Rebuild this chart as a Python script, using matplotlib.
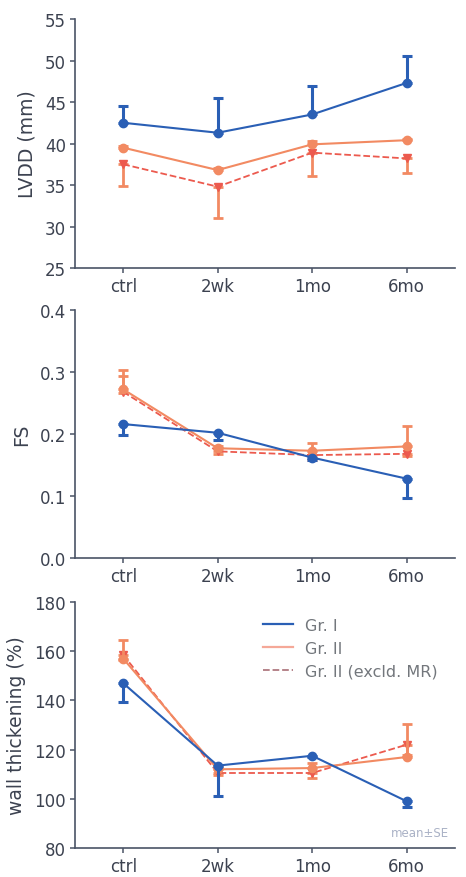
import numpy as np
import matplotlib.pyplot as plt
from matplotlib.lines import Line2D

plt.rcParams['font.family'] = ['DejaVu Sans']

# categories
times = ['ctrl', '2wk', '1mo', '6mo']
x = np.arange(len(times))

# LVDD (mm): means, lower err, upper err
lvdd_g1 = [42.5, 41.3, 43.5, 47.3]
lvdd_g1_lo = [0, 0, 0, 0]
lvdd_g1_hi = [2.0, 4.2, 3.4, 3.3]
lvdd_g2 = [39.5, 36.8, 39.9, 40.4]
lvdd_g2_lo = [0, 0, 0, 0]
lvdd_g2_hi = [0.2, 0.2, 0.4, 0.1]
lvdd_ex = [37.5, 34.8, 38.9, 38.2]
lvdd_ex_lo = [2.6, 3.8, 2.8, 1.7]
lvdd_ex_hi = [0, 0, 0, 0]

# FS
fs_g1 = [0.216, 0.202, 0.162, 0.128]
fs_g1_lo = [0.018, 0.012, 0.004, 0.031]
fs_g1_hi = [0, 0, 0, 0]
fs_g2 = [0.272, 0.177, 0.173, 0.180]
fs_g2_lo = [0, 0, 0, 0]
fs_g2_hi = [0.031, 0.004, 0.013, 0.033]
fs_ex = [0.268, 0.172, 0.166, 0.168]
fs_ex_lo = [0.002, 0.004, 0.008, 0.003]
fs_ex_hi = [0.025, 0, 0, 0]

# wall thickening (%)
wt_g1 = [147, 113.5, 117.5, 99]
wt_g1_lo = [7.5, 12.5, 0.5, 2.5]
wt_g1_hi = [0, 0, 0, 0]
wt_g2 = [157, 112, 112.5, 117]
wt_g2_lo = [0, 0, 0, 0]
wt_g2_hi = [7.5, 1.0, 2.0, 13.5]
wt_ex = [158.5, 110.5, 110.5, 122]
wt_ex_lo = [2.0, 1.0, 2.0, 4.0]
wt_ex_hi = [0, 0, 0, 0]

c_g1 = '#2a5fb5'
c_g2 = '#f28a62'
c_ex = '#ec5a4e'
c_axis = '#4a5466'
c_text = '#3c4250'

panels = [
    ('LVDD (mm)', (25, 55), [25, 30, 35, 40, 45, 50, 55], None,
     (lvdd_g1, lvdd_g1_lo, lvdd_g1_hi), (lvdd_g2, lvdd_g2_lo, lvdd_g2_hi),
     (lvdd_ex, lvdd_ex_lo, lvdd_ex_hi)),
    ('FS', (0, 0.4), [0.0, 0.1, 0.2, 0.3, 0.4], '%.1f',
     (fs_g1, fs_g1_lo, fs_g1_hi), (fs_g2, fs_g2_lo, fs_g2_hi),
     (fs_ex, fs_ex_lo, fs_ex_hi)),
    ('wall thickening (%)', (80, 180), [80, 100, 120, 140, 160, 180], None,
     (wt_g1, wt_g1_lo, wt_g1_hi), (wt_g2, wt_g2_lo, wt_g2_hi),
     (wt_ex, wt_ex_lo, wt_ex_hi)),
]

fig = plt.figure(figsize=(4.66, 8.78), dpi=100)
rects = [
    [0.161, 0.6936, 0.815, 0.2836],
    [0.161, 0.3633, 0.815, 0.2825],
    [0.161, 0.0330, 0.815, 0.2802],
]

for i, (ylab, ylim, yt, fmt, g1, g2, ex) in enumerate(panels):
    ax = fig.add_axes(rects[i])
    # Gr. II excl. MR (dashed)
    ax.errorbar(x, ex[0], yerr=[ex[1], ex[2]], color=c_ex, ls='--', lw=1.3,
                marker='v', ms=6, elinewidth=2, capsize=3.5, capthick=2,
                ecolor=c_g2, zorder=2)
    # Gr. II
    ax.errorbar(x, g2[0], yerr=[g2[1], g2[2]], color=c_g2, ls='-', lw=1.5,
                marker='o', ms=6, elinewidth=2, capsize=3.5, capthick=2,
                zorder=3)
    # Gr. I
    ax.errorbar(x, g1[0], yerr=[g1[1], g1[2]], color=c_g1, ls='-', lw=1.5,
                marker='o', ms=6, elinewidth=2.2, capsize=3.5, capthick=2.2,
                zorder=4)

    ax.set_xlim(-0.51, 3.51)
    ax.set_ylim(*ylim)
    ax.set_yticks(yt)
    if fmt:
        ax.set_yticklabels([fmt % v for v in yt])
    ax.set_xticks(x)
    ax.set_xticklabels(times)
    ax.set_ylabel(ylab, fontsize=13.5, color=c_text, labelpad=6)
    for s in ['top', 'right']:
        ax.spines[s].set_visible(False)
    for s in ['left', 'bottom']:
        ax.spines[s].set_color(c_axis)
        ax.spines[s].set_linewidth(1.2)
    ax.tick_params(axis='both', colors=c_axis, labelcolor=c_text,
                   labelsize=12, direction='out', length=3.5, width=1.1)
    ax.tick_params(axis='x', pad=3)
    ax.tick_params(axis='y', pad=3)

    if i == 2:
        handles = [Line2D([], [], color=c_g1, lw=1.6),
                   Line2D([], [], color='#f5a898', lw=1.6),
                   Line2D([], [], color='#b07a80', lw=1.3, ls='--')]
        labels = ['Gr. I', 'Gr. II', 'Gr. II (excld. MR)']
        leg = fig.legend(handles, labels, loc='upper left',
                         bbox_to_anchor=(263 / 466, 1 - 619 / 878),
                         frameon=False, fontsize=11.5, handlelength=1.9,
                         handletextpad=0.75, labelspacing=0.5,
                         borderaxespad=0, borderpad=0)
        for t in leg.get_texts():
            t.set_color('#73777c')
        ax.text(0.985, 0.035, 'mean\u00b1SE', transform=ax.transAxes,
                ha='right', va='bottom', fontsize=8.5, color='#aab2c6')

fig.savefig('out.png', dpi=100)
